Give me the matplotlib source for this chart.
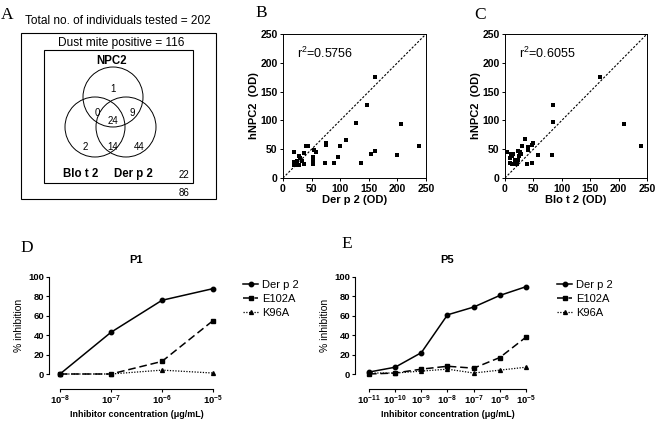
import numpy as np
import matplotlib
matplotlib.use('Agg')
import matplotlib.pyplot as plt
from matplotlib.patches import Rectangle, Circle

plt.rcParams['font.family'] = ['Liberation Sans', 'DejaVu Sans']
plt.rcParams['mathtext.fontset'] = 'custom'
plt.rcParams['mathtext.rm'] = 'Liberation Sans'
plt.rcParams['mathtext.bf'] = 'Liberation Sans:bold'
plt.rcParams['mathtext.default'] = 'regular'

W, H = 660, 422

# ── Data ──────────────────────────────────────────────────────────────────────
total_tested = 202
mite_positive = 116
venn_labels = ['NPC2', 'Blo t 2', 'Der p 2']
venn_counts = {'npc2_only': 1, 'npc2_blot': 0, 'npc2_derp': 9, 'all': 24,
               'blot_only': 2, 'blot_derp': 14, 'derp_only': 44}
mite_none = 22
not_mite = 86

# B: Der p 2 vs hNPC2
b_x = [160, 146, 128, 207, 238, 111, 99, 75, 75, 97, 73, 90, 137, 160, 153, 200,
       58, 55, 53, 52, 52, 40, 43, 36, 37, 20, 28, 29, 20, 22, 25, 28, 19, 24, 33]
b_y = [176, 126, 96, 93, 55, 66, 56, 60, 57, 36, 26, 26, 26, 47, 42, 40,
       46, 49, 37, 32, 25, 55, 55, 44, 24, 46, 39, 34, 27, 24, 23, 23, 23, 29, 30]
b_r2 = 0.5756

# C: Blo t 2 vs hNPC2
c_x = [168, 85, 85, 210, 239, 82, 58, 47, 38, 49, 48, 36, 30, 40, 41, 27, 23, 25,
       23, 22, 21, 4, 10, 12, 9, 12, 8, 16, 14, 29, 18]
c_y = [176, 127, 97, 93, 56, 40, 40, 26, 24, 60, 57, 67, 56, 53, 48, 46, 47, 38,
       32, 24, 27, 46, 42, 39, 35, 25, 26, 25, 41, 41, 32]
c_r2 = 0.6055

# D: P1 inhibition
d_conc = [1e-8, 1e-7, 1e-6, 1e-5]
d_derp2 = [0, 43, 76, 88]
d_e102a = [0, 0, 13, 55]
d_k96a = [0, 0, 4, 1]

# E: P5 inhibition
e_conc = [1e-11, 1e-10, 1e-9, 1e-8, 1e-7, 1e-6, 1e-5]
e_derp2 = [2, 7, 22, 61, 69, 81, 90]
e_e102a = [0, 1, 5, 8, 6, 17, 38]
e_k96a = [1, 1, 3, 5, 1, 4, 7]

series_names = ['Der p 2', 'E102A', 'K96A']

# ── Figure ────────────────────────────────────────────────────────────────────
fig = plt.figure(figsize=(W / 100, H / 100), dpi=100)


def px_axes(x0, y0, x1, y1, **kw):
    return fig.add_axes([x0 / W, 1 - y1 / H, (x1 - x0) / W, (y1 - y0) / H], **kw)


def fx(x):
    return x / W


def fy(y):
    return 1 - y / H


letter_kw = dict(family='Liberation Serif', fontsize=12.5, va='center', ha='center')

# ── Panel A: Venn ─────────────────────────────────────────────────────────────
axA = px_axes(0, 0, W, H)
axA.set_xlim(0, W)
axA.set_ylim(H, 0)
axA.axis('off')
axA.add_patch(Rectangle((21, 33), 195, 166, fill=False, lw=0.8, ec='black'))
axA.add_patch(Rectangle((44, 50), 149, 133, fill=False, lw=0.8, ec='black'))
for cx, cy in [(113, 97), (95, 127), (126, 127)]:
    axA.add_patch(Circle((cx, cy), 30, fill=False, lw=0.7, ec='black'))
fig.text(fx(7), fy(15), 'A', **letter_kw)
fig.text(fx(118), fy(21), f'Total no. of individuals tested = {total_tested}',
         fontsize=8.6, ha='center', va='center')
fig.text(fx(121), fy(43), f'Dust mite positive = {mite_positive}',
         fontsize=8.6, ha='center', va='center')
fig.text(fx(112), fy(61), venn_labels[0], fontsize=8.3, fontweight='bold',
         ha='center', va='center')
fig.text(fx(81), fy(174), venn_labels[1], fontsize=8.3, fontweight='bold',
         ha='center', va='center')
fig.text(fx(133), fy(174), venn_labels[2], fontsize=8.3, fontweight='bold',
         ha='center', va='center')
venn_pos = {'npc2_only': (113, 89), 'npc2_blot': (97, 113), 'npc2_derp': (132, 113),
            'all': (113, 121), 'blot_only': (85, 147), 'blot_derp': (113, 147),
            'derp_only': (139, 147)}
for k, (px, py) in venn_pos.items():
    fig.text(fx(px), fy(py), str(venn_counts[k]), fontsize=7, ha='center', va='center')
fig.text(fx(184), fy(175), str(mite_none), fontsize=7, ha='center', va='center')
fig.text(fx(184), fy(193), str(not_mite), fontsize=7, ha='center', va='center')


# ── Panels B, C: scatter ──────────────────────────────────────────────────────
def scatter_panel(ax, xs, ys, r2, xlabel):
    ax.plot([0, 250], [0, 250], color='black', lw=0.8, ls=(0, (2, 1.5)))
    ax.scatter(xs, ys, marker='s', s=7, color='black', lw=0, zorder=3, clip_on=False)
    ax.set_xlim(0, 250)
    ax.set_ylim(0, 250)
    ax.set_xticks(range(0, 251, 50))
    ax.set_yticks(range(0, 251, 50))
    ax.tick_params(labelsize=7.5, length=2.5, width=0.7, pad=1.5)
    for lab in ax.get_xticklabels() + ax.get_yticklabels():
        lab.set_fontweight('bold')
    for s in ax.spines.values():
        s.set_linewidth(0.7)
    ax.set_xlabel(xlabel, fontsize=8, fontweight='bold', labelpad=1)
    ax.set_ylabel('hNPC2  (OD)', fontsize=8, fontweight='bold', labelpad=1)
    ax.text(25, 208, f'r$^2$={r2:.4f}', fontsize=9)


axB = px_axes(283, 34, 426, 178)
scatter_panel(axB, b_x, b_y, b_r2, 'Der p 2 (OD)')
fig.text(fx(261), fy(13), 'B', **letter_kw)

axC = px_axes(505, 34, 647, 178)
scatter_panel(axC, c_x, c_y, c_r2, 'Blo t 2 (OD)')
fig.text(fx(480), fy(15), 'C', **letter_kw)


# ── Panels D, E: inhibition curves ────────────────────────────────────────────
def inhibition_panel(ax, conc, derp, e102, k96, title, left_off, leg_x):
    ax.plot(conc, derp, '-o', color='black', lw=1.1, ms=3.2, clip_on=False, label=series_names[0])
    ax.plot(conc, e102, '-s', color='black', lw=1.1, ms=3.2, dashes=(5, 2.5),
            clip_on=False, label=series_names[1])
    ax.plot(conc, k96, '^', color='black', lw=0.9, ms=2.8, ls=(0, (1, 1.2)),
            clip_on=False, label=series_names[2])
    ax.set_xscale('log')
    ax.set_xlim(conc[0], conc[-1])
    ax.set_ylim(0, 100)
    ax.set_xticks(conc)
    ax.set_xticklabels([f'$\\mathbf{{10^{{{int(round(np.log10(c)))}}}}}$' for c in conc])
    ax.minorticks_off()
    ax.set_yticks(range(0, 101, 20))
    ax.spines['top'].set_visible(False)
    ax.spines['right'].set_visible(False)
    ax.spines['left'].set_position(('outward', left_off))
    ax.spines['bottom'].set_position(('outward', 10.5))
    for s in ('left', 'bottom'):
        ax.spines[s].set_linewidth(0.8)
    ax.tick_params(labelsize=6.8, length=2.5, width=0.8, pad=1.2)
    for lab in ax.get_yticklabels():
        lab.set_fontweight('bold')
    ax.set_title(title, fontsize=8, fontweight='bold', pad=10)
    ax.set_xlabel('Inhibitor concentration (\u03bcg/mL)', fontsize=6.4, fontweight='bold', labelpad=2)
    ax.set_ylabel('% inhibition', fontsize=7.5, labelpad=3)
    ax.legend(loc='upper left', bbox_to_anchor=(leg_x, 1.02), frameon=False, fontsize=8,
              handlelength=1.35, handletextpad=0.35, labelspacing=0.36, borderaxespad=0)


axD = px_axes(60, 277, 213, 374)
inhibition_panel(axD, d_conc, d_derp2, d_e102a, d_k96a, 'P1', 7.9, 1.17)
fig.text(fx(27), fy(248), 'D', **letter_kw)

axE = px_axes(369, 277, 526, 374)
inhibition_panel(axE, e_conc, e_derp2, e_e102a, e_k96a, 'P5', 10, 1.17)
fig.text(fx(347), fy(244), 'E', **letter_kw)

fig.savefig('out.png', dpi=100)
